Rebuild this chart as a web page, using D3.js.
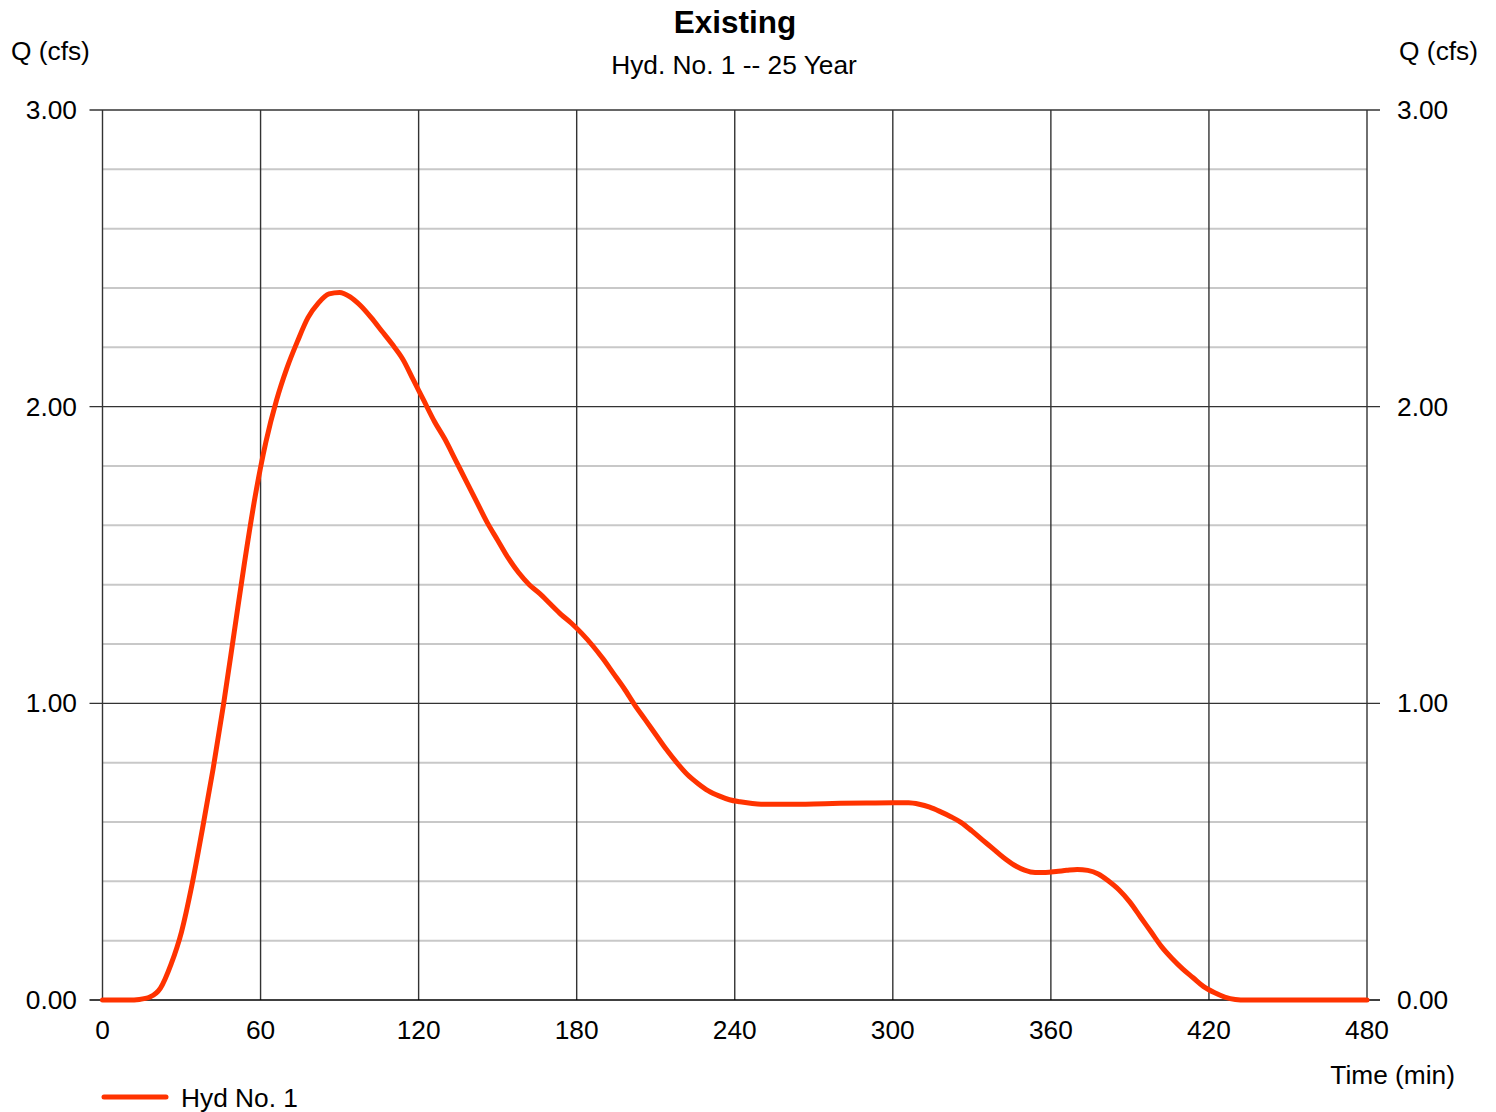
<!DOCTYPE html>
<html>
<head>
<meta charset="utf-8">
<script src="https://cdn.jsdelivr.net/npm/d3@7"></script>
<style>
  html, body { margin: 0; padding: 0; background: #fff; }
  svg text { font-family: "Liberation Sans", Arial, sans-serif; fill: #000; }
</style>
</head>
<body>
<svg id="chart" width="1496" height="1112"></svg>
<script>
// ---- data ----
const timeMin = [0, 10, 14, 18, 22, 26, 30, 34, 38, 42, 46, 50, 54, 58, 62, 66, 70, 74, 78, 82, 86, 90, 94, 98, 102, 106, 110, 114, 118, 122, 126, 130, 134, 138, 142, 146, 150, 154, 158, 162, 166, 170, 174, 178, 182, 186, 190, 194, 198, 202, 206, 210, 214, 218, 222, 226, 230, 234, 238, 242, 246, 250, 260, 270, 280, 290, 300, 306, 310, 314, 318, 322, 326, 330, 334, 338, 342, 346, 350, 354, 358, 362, 366, 370, 374, 378, 382, 386, 390, 394, 398, 402, 406, 410, 414, 418, 422, 426, 430, 434, 480];
const flowCfs = [0, 0, 0.002, 0.01, 0.04, 0.12, 0.23, 0.39, 0.58, 0.78, 1.00, 1.24, 1.48, 1.70, 1.88, 2.02, 2.13, 2.22, 2.30, 2.35, 2.38, 2.385, 2.37, 2.34, 2.30, 2.255, 2.21, 2.16, 2.09, 2.02, 1.95, 1.89, 1.82, 1.75, 1.68, 1.61, 1.55, 1.49, 1.44, 1.40, 1.37, 1.335, 1.30, 1.27, 1.235, 1.195, 1.15, 1.10, 1.05, 0.995, 0.945, 0.895, 0.845, 0.80, 0.76, 0.73, 0.705, 0.688, 0.675, 0.668, 0.663, 0.66, 0.66, 0.661, 0.663, 0.664, 0.665, 0.665, 0.66, 0.65, 0.635, 0.618, 0.598, 0.57, 0.54, 0.51, 0.48, 0.455, 0.438, 0.43, 0.43, 0.433, 0.437, 0.44, 0.437, 0.425, 0.40, 0.37, 0.33, 0.28, 0.23, 0.18, 0.14, 0.105, 0.075, 0.045, 0.025, 0.01, 0.002, 0, 0];
const xTicks = [0, 60, 120, 180, 240, 300, 360, 420, 480];
const yMajorTicks = [0, 1, 2, 3];
const yMinorTicks = [0.2, 0.4, 0.6, 0.8, 1.2, 1.4, 1.6, 1.8, 2.2, 2.4, 2.6, 2.8];
const titleText = "Existing";
const subtitleText = "Hyd. No. 1 -- 25 Year";
const yLabel = "Q (cfs)";
const xLabel = "Time (min)";
const seriesName = "Hyd No. 1";

// ---- layout ----
const svg = d3.select("#chart");
const L = 102.5, R = 1367, T = 110, B = 1000;
const x = d3.scaleLinear().domain([0, 480]).range([L, R]);
const y = d3.scaleLinear().domain([0, 3]).range([B, T]);
const lineColor = "#ff3300";
const fs = 26.3;

// minor horizontal grid
svg.append("g").selectAll("line").data(yMinorTicks).join("line")
  .attr("x1", L).attr("x2", R)
  .attr("y1", d => y(d)).attr("y2", d => y(d))
  .attr("stroke", "#c8c8c8").attr("stroke-width", 2);

// vertical grid
svg.append("g").selectAll("line").data(xTicks).join("line")
  .attr("x1", d => x(d)).attr("x2", d => x(d))
  .attr("y1", T).attr("y2", B)
  .attr("stroke", "#333").attr("stroke-width", 1.4);

// major horizontal lines with outer ticks
svg.append("g").selectAll("line").data(yMajorTicks).join("line")
  .attr("x1", L - 13).attr("x2", R + 13)
  .attr("y1", d => y(d)).attr("y2", d => y(d))
  .attr("stroke", d => d === 0 ? "#000" : "#333").attr("stroke-width", 1.4);

// left/right axes labels
const fmt = d3.format(".2f");
svg.append("g").selectAll("text").data(yMajorTicks).join("text")
  .attr("x", 77).attr("y", d => y(d) + 9)
  .attr("text-anchor", "end").attr("font-size", fs)
  .text(d => fmt(d));
svg.append("g").selectAll("text").data(yMajorTicks).join("text")
  .attr("x", 1397).attr("y", d => y(d) + 9)
  .attr("text-anchor", "start").attr("font-size", fs)
  .text(d => fmt(d));

// x tick labels
svg.append("g").selectAll("text").data(xTicks).join("text")
  .attr("x", d => x(d)).attr("y", 1039)
  .attr("text-anchor", "middle").attr("font-size", fs)
  .text(d => d);

// axis titles
svg.append("text").attr("x", 11).attr("y", 60).attr("font-size", fs).text(yLabel);
svg.append("text").attr("x", 1478).attr("y", 60).attr("text-anchor", "end").attr("font-size", fs).text(yLabel);
svg.append("text").attr("x", 1455).attr("y", 1084).attr("text-anchor", "end").attr("font-size", fs).text(xLabel);

// title
svg.append("text").attr("x", 735).attr("y", 33).attr("text-anchor", "middle")
  .attr("font-size", 31.5).attr("font-weight", "bold").text(titleText);
svg.append("text").attr("x", 734).attr("y", 74).attr("text-anchor", "middle")
  .attr("font-size", fs).text(subtitleText);

// series line
const data = timeMin.map((t, i) => ({ t, q: flowCfs[i] }));
const line = d3.line().x(d => x(d.t)).y(d => y(d.q)).curve(d3.curveMonotoneX);
svg.append("path").datum(data)
  .attr("d", line)
  .attr("fill", "none")
  .attr("stroke", lineColor)
  .attr("stroke-width", 5)
  .attr("stroke-linecap", "round")
  .attr("stroke-linejoin", "round");

// legend
svg.append("line").attr("x1", 104).attr("x2", 166).attr("y1", 1097).attr("y2", 1097)
  .attr("stroke", lineColor).attr("stroke-width", 5).attr("stroke-linecap", "round");
svg.append("text").attr("x", 181).attr("y", 1107).attr("font-size", fs).text(seriesName);
</script>
</body>
</html>
